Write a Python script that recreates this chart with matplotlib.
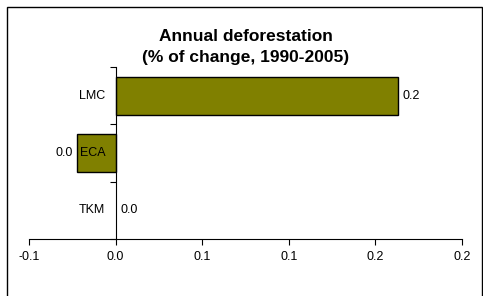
import matplotlib
matplotlib.use("Agg")
import matplotlib.pyplot as plt
from matplotlib.patches import Rectangle

plt.rcParams['font.family'] = ['Liberation Sans', 'DejaVu Sans']

# data
categories = ["LMC", "ECA", "TKM"]
values = [0.163, -0.022, 0.0]
value_labels = ["0.2", "0.0", "0.0"]
xticks = [-0.05, 0.0, 0.05, 0.1, 0.15, 0.2]
xtick_labels = ["-0.1", "0.0", "0.1", "0.1", "0.2", "0.2"]

W, H = 483, 296
fig = plt.figure(figsize=(W / 100, H / 100), dpi=100)
ax = fig.add_axes([29 / W, 1 - 239 / H, (462 - 29) / W, (239 - 67) / H])

ypos = list(range(len(categories)))
ax.barh(ypos, values, height=0.66, color="#808000", edgecolor="black",
        linewidth=[1.0 if v != 0 else 0 for v in values])

ax.set_xlim(-0.05, 0.2)
ax.set_ylim(len(categories) - 0.5, -0.5)

ax.set_xticks(xticks)
ax.set_xticklabels(xtick_labels, fontsize=9)
ax.set_yticks([i - 0.5 for i in range(len(categories) + 1)])
ax.set_yticklabels([])
ax.tick_params(axis="x", direction="out", length=4, width=0.8, pad=5, colors="black")
ax.tick_params(axis="y", direction="out", length=4, width=0.8)

for s in ["top", "right"]:
    ax.spines[s].set_visible(False)
ax.spines["left"].set_position(("data", 0))
ax.spines["left"].set_linewidth(0.8)
ax.spines["bottom"].set_linewidth(0.8)

# category labels next to the axis
for i, c in enumerate(categories):
    ax.annotate(c, xy=(0, i), xytext=(-7.5, 0), textcoords="offset points",
                ha="right", va="center", fontsize=9)

# value labels
for i, (v, lab) in enumerate(zip(values, value_labels)):
    if v < 0:
        ax.annotate(lab, xy=(v, i), xytext=(-3.6, 0), textcoords="offset points",
                    ha="right", va="center", fontsize=9)
    else:
        ax.annotate(lab, xy=(v, i), xytext=(3.4, 0), textcoords="offset points",
                    ha="left", va="center", fontsize=9)

fig.text(246 / W, 1 - 47 / H, "Annual deforestation\n(% of change, 1990-2005)",
         ha="center", va="center", fontsize=12.5, fontweight="bold", linespacing=1.45)

# chart border
fig.patches.append(Rectangle((7 / W, -0.1), (482 - 7) / W, 1.1 - 7 / H,
                             transform=fig.transFigure, fill=False,
                             edgecolor="black", linewidth=1.0))

fig.savefig("out.png", dpi=100)
